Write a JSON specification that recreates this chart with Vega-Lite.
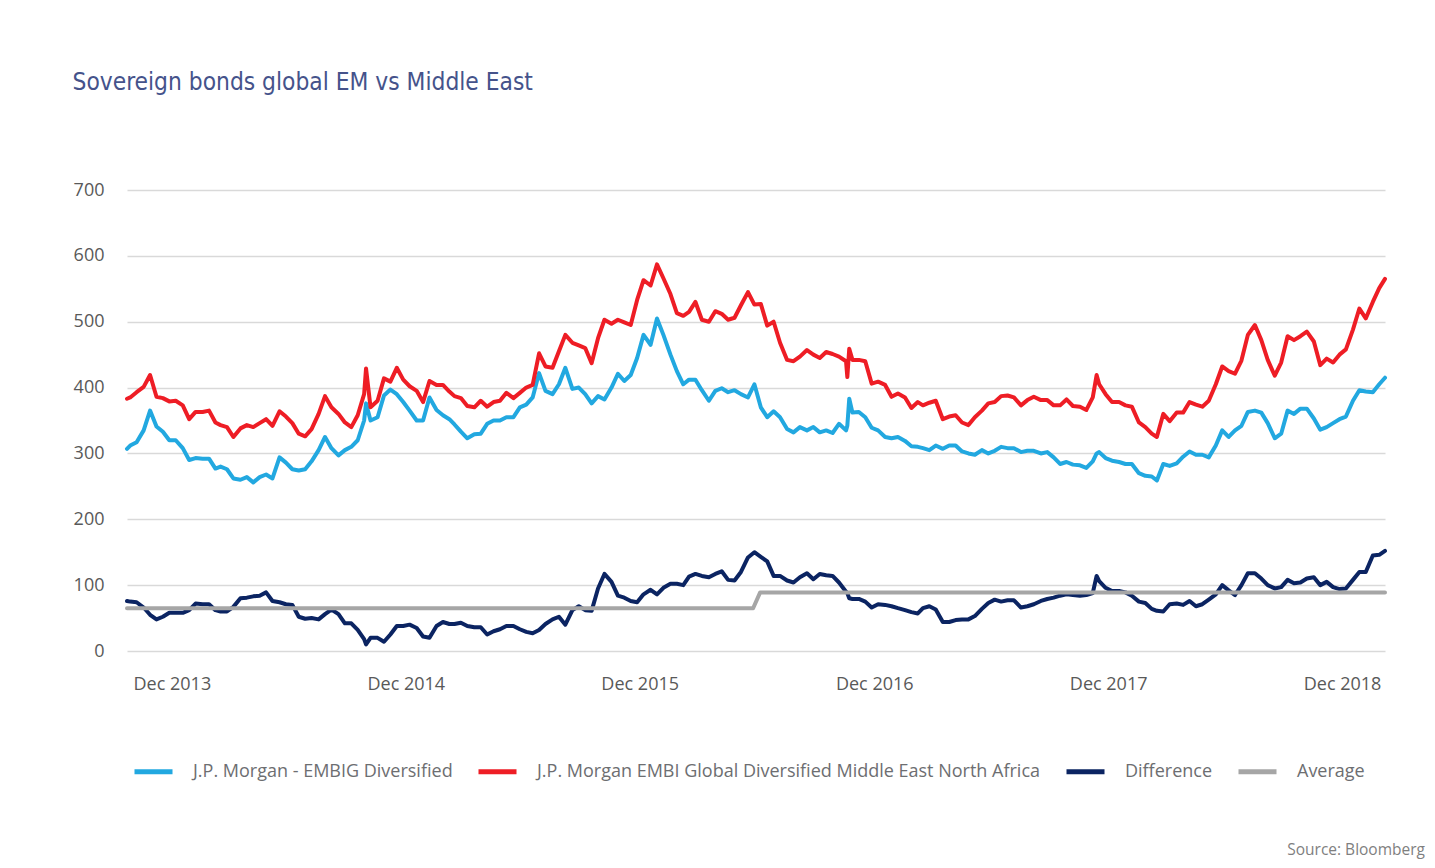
{
  "$schema": "https://vega.github.io/schema/vega-lite/v6.json",
  "width": 1258,
  "height": 461,
  "autosize": {"type": "none"},
  "padding": {"left": 127, "top": 190, "right": 50, "bottom": 217},
  "background": "#ffffff",
  "title": {"text": "Source: Bloomberg", "orient": "bottom", "anchor": "end", "frame": "group", "fontSize": 15.5, "fontWeight": "normal", "color": "#7f7f7f", "font": "Open Sans", "offset": 56, "dx": 40},
  "data": {"values": [
    {"d":"2013-10-06","me":383,"em":307,"df":76,"av":65},
    {"d":"2013-10-11","me":385,"em":312,"df":75},
    {"d":"2013-10-21","me":393,"em":317,"df":74},
    {"d":"2013-11-01","me":401,"em":335,"df":66},
    {"d":"2013-11-11","me":419,"em":365,"df":55},
    {"d":"2013-11-21","me":386,"em":341,"df":48},
    {"d":"2013-12-01","me":384,"em":333,"df":52},
    {"d":"2013-12-11","me":379,"em":320,"df":58},
    {"d":"2013-12-21","me":380,"em":320,"df":58},
    {"d":"2014-01-01","me":373,"em":308,"df":58},
    {"d":"2014-01-11","me":352,"em":290,"df":62},
    {"d":"2014-01-21","me":363,"em":293,"df":72},
    {"d":"2014-02-01","me":363,"em":292,"df":71},
    {"d":"2014-02-11","me":365,"em":292,"df":71},
    {"d":"2014-02-21","me":347,"em":277,"df":62},
    {"d":"2014-03-01","me":343,"em":280,"df":60},
    {"d":"2014-03-11","me":340,"em":276,"df":60},
    {"d":"2014-03-21","me":325,"em":262,"df":67},
    {"d":"2014-04-01","me":338,"em":260,"df":80},
    {"d":"2014-04-11","me":343,"em":264,"df":81},
    {"d":"2014-04-21","me":340,"em":256,"df":83},
    {"d":"2014-05-01","me":346,"em":264,"df":84},
    {"d":"2014-05-11","me":352,"em":268,"df":89},
    {"d":"2014-05-21","me":342,"em":262,"df":76},
    {"d":"2014-06-01","me":364,"em":294,"df":74},
    {"d":"2014-06-11","me":356,"em":286,"df":71},
    {"d":"2014-06-21","me":346,"em":276,"df":70},
    {"d":"2014-07-01","me":330,"em":274,"df":52},
    {"d":"2014-07-11","me":326,"em":276,"df":49},
    {"d":"2014-07-21","me":337,"em":288,"df":50},
    {"d":"2014-08-01","me":360,"em":305,"df":48},
    {"d":"2014-08-11","me":387,"em":325,"df":56},
    {"d":"2014-08-21","me":370,"em":308,"df":63},
    {"d":"2014-09-01","me":360,"em":297,"df":56},
    {"d":"2014-09-11","me":347,"em":305,"df":42},
    {"d":"2014-09-21","me":340,"em":310,"df":42},
    {"d":"2014-10-01","me":358,"em":320,"df":32},
    {"d":"2014-10-11","me":390,"em":350,"df":18},
    {"d":"2014-10-14","me":429,"em":376,"df":10},
    {"d":"2014-10-21","me":370,"em":350,"df":20},
    {"d":"2014-11-01","me":380,"em":355,"df":20},
    {"d":"2014-11-11","me":414,"em":388,"df":14},
    {"d":"2014-11-21","me":409,"em":397,"df":25},
    {"d":"2014-12-01","me":430,"em":390,"df":38},
    {"d":"2014-12-11","me":412,"em":378,"df":38},
    {"d":"2014-12-21","me":402,"em":365,"df":40},
    {"d":"2015-01-01","me":395,"em":350,"df":35},
    {"d":"2015-01-11","me":378,"em":350,"df":22},
    {"d":"2015-01-21","me":410,"em":385,"df":20},
    {"d":"2015-02-01","me":404,"em":366,"df":38},
    {"d":"2015-02-11","me":404,"em":358,"df":44},
    {"d":"2015-02-21","me":394,"em":352,"df":41},
    {"d":"2015-03-01","me":387,"em":344,"df":41},
    {"d":"2015-03-11","me":384,"em":333,"df":43},
    {"d":"2015-03-21","me":372,"em":323,"df":38},
    {"d":"2015-04-01","me":370,"em":329,"df":36},
    {"d":"2015-04-11","me":380,"em":330,"df":36},
    {"d":"2015-04-21","me":371,"em":345,"df":25},
    {"d":"2015-05-01","me":378,"em":350,"df":30},
    {"d":"2015-05-11","me":380,"em":350,"df":33},
    {"d":"2015-05-21","me":392,"em":355,"df":38},
    {"d":"2015-06-01","me":384,"em":355,"df":38},
    {"d":"2015-06-11","me":392,"em":370,"df":33},
    {"d":"2015-06-21","me":400,"em":374,"df":29},
    {"d":"2015-07-01","me":404,"em":385,"df":27},
    {"d":"2015-07-11","me":452,"em":422,"df":32},
    {"d":"2015-07-21","me":432,"em":395,"df":41},
    {"d":"2015-08-01","me":430,"em":390,"df":48},
    {"d":"2015-08-11","me":455,"em":405,"df":52},
    {"d":"2015-08-21","me":480,"em":430,"df":40},
    {"d":"2015-09-01","me":468,"em":398,"df":62},
    {"d":"2015-09-11","me":464,"em":400,"df":68},
    {"d":"2015-09-21","me":460,"em":390,"df":62},
    {"d":"2015-10-01","me":437,"em":376,"df":61},
    {"d":"2015-10-11","me":475,"em":387,"df":95},
    {"d":"2015-10-21","me":503,"em":382,"df":117},
    {"d":"2015-11-01","me":497,"em":400,"df":105},
    {"d":"2015-11-11","me":503,"em":421,"df":84},
    {"d":"2015-11-21","me":499,"em":410,"df":81},
    {"d":"2015-12-01","me":495,"em":419,"df":76},
    {"d":"2015-12-11","me":533,"em":445,"df":74},
    {"d":"2015-12-21","me":563,"em":480,"df":86},
    {"d":"2016-01-01","me":555,"em":465,"df":93},
    {"d":"2016-01-11","me":587,"em":505,"df":86},
    {"d":"2016-01-21","me":566,"em":480,"df":96},
    {"d":"2016-02-01","me":542,"em":450,"df":102},
    {"d":"2016-02-11","me":513,"em":425,"df":102},
    {"d":"2016-02-21","me":509,"em":405,"df":100},
    {"d":"2016-03-01","me":515,"em":412,"df":113},
    {"d":"2016-03-11","me":530,"em":412,"df":117},
    {"d":"2016-03-21","me":503,"em":396,"df":114},
    {"d":"2016-04-01","me":500,"em":380,"df":112},
    {"d":"2016-04-11","me":516,"em":395,"df":117},
    {"d":"2016-04-21","me":512,"em":399,"df":121},
    {"d":"2016-05-01","me":503,"em":393,"df":108},
    {"d":"2016-05-11","me":506,"em":396,"df":107},
    {"d":"2016-05-21","me":525,"em":390,"df":120},
    {"d":"2016-06-01","me":545,"em":385,"df":142},
    {"d":"2016-06-09","av":65},
    {"d":"2016-06-11","me":526,"em":405,"df":150},
    {"d":"2016-06-20","av":89},
    {"d":"2016-06-21","me":527,"em":370,"df":143},
    {"d":"2016-07-01","me":494,"em":355,"df":136},
    {"d":"2016-07-11","me":500,"em":364,"df":114},
    {"d":"2016-07-21","me":468,"em":355,"df":114},
    {"d":"2016-08-01","me":442,"em":337,"df":107},
    {"d":"2016-08-11","me":440,"em":332,"df":104},
    {"d":"2016-08-21","me":447,"em":340,"df":112},
    {"d":"2016-09-01","me":457,"em":335,"df":118},
    {"d":"2016-09-11","me":450,"em":340,"df":109},
    {"d":"2016-09-21","me":445,"em":332,"df":117},
    {"d":"2016-10-01","me":454,"em":335,"df":115},
    {"d":"2016-10-11","me":451,"em":331,"df":114},
    {"d":"2016-10-21","me":447,"em":345,"df":104},
    {"d":"2016-11-01","me":440,"em":335,"df":90},
    {"d":"2016-11-03","me":416,"em":342,"df":88},
    {"d":"2016-11-06","me":459,"em":383,"df":80},
    {"d":"2016-11-11","me":442,"em":362,"df":79},
    {"d":"2016-11-21","me":442,"em":363,"df":79},
    {"d":"2016-12-01","me":440,"em":355,"df":75},
    {"d":"2016-12-11","me":406,"em":339,"df":66},
    {"d":"2016-12-21","me":409,"em":335,"df":71},
    {"d":"2017-01-01","me":404,"em":325,"df":70},
    {"d":"2017-01-11","me":386,"em":323,"df":68},
    {"d":"2017-01-21","me":391,"em":325,"df":65},
    {"d":"2017-02-01","me":385,"em":319,"df":62},
    {"d":"2017-02-11","me":369,"em":311,"df":59},
    {"d":"2017-02-21","me":378,"em":310,"df":57},
    {"d":"2017-03-01","me":373,"em":308,"df":65},
    {"d":"2017-03-11","me":377,"em":305,"df":68},
    {"d":"2017-03-21","me":380,"em":312,"df":63},
    {"d":"2017-04-01","me":352,"em":307,"df":44},
    {"d":"2017-04-11","me":356,"em":312,"df":44},
    {"d":"2017-04-21","me":358,"em":312,"df":47},
    {"d":"2017-05-01","me":347,"em":303,"df":48},
    {"d":"2017-05-11","me":343,"em":300,"df":48},
    {"d":"2017-05-21","me":355,"em":298,"df":53},
    {"d":"2017-06-01","me":365,"em":305,"df":64},
    {"d":"2017-06-11","me":376,"em":300,"df":73},
    {"d":"2017-06-21","me":378,"em":304,"df":78},
    {"d":"2017-07-01","me":387,"em":310,"df":75},
    {"d":"2017-07-11","me":388,"em":308,"df":77},
    {"d":"2017-07-21","me":385,"em":308,"df":77},
    {"d":"2017-08-01","me":373,"em":302,"df":66},
    {"d":"2017-08-11","me":381,"em":304,"df":68},
    {"d":"2017-08-21","me":386,"em":304,"df":71},
    {"d":"2017-09-01","me":381,"em":300,"df":76},
    {"d":"2017-09-11","me":381,"em":302,"df":79},
    {"d":"2017-09-21","me":373,"em":294,"df":81},
    {"d":"2017-10-01","me":373,"em":284,"df":84},
    {"d":"2017-10-11","me":382,"em":287,"df":86},
    {"d":"2017-10-21","me":372,"em":283,"df":85},
    {"d":"2017-11-01","me":371,"em":282,"df":84},
    {"d":"2017-11-11","me":366,"em":278,"df":85},
    {"d":"2017-11-21","me":385,"em":288,"df":88},
    {"d":"2017-11-27","me":419,"em":300,"df":114},
    {"d":"2017-12-01","me":405,"em":302,"df":106},
    {"d":"2017-12-11","me":390,"em":293,"df":96},
    {"d":"2017-12-21","me":378,"em":289,"df":91},
    {"d":"2018-01-01","me":378,"em":287,"df":91},
    {"d":"2018-01-11","me":373,"em":284,"df":89},
    {"d":"2018-01-21","me":371,"em":284,"df":84},
    {"d":"2018-02-01","me":347,"em":270,"df":75},
    {"d":"2018-02-11","me":340,"em":266,"df":73},
    {"d":"2018-02-21","me":330,"em":265,"df":64},
    {"d":"2018-03-01","me":325,"em":259,"df":61},
    {"d":"2018-03-11","me":360,"em":284,"df":60},
    {"d":"2018-03-21","me":349,"em":281,"df":71},
    {"d":"2018-04-01","me":362,"em":285,"df":72},
    {"d":"2018-04-11","me":362,"em":295,"df":70},
    {"d":"2018-04-21","me":378,"em":303,"df":76},
    {"d":"2018-05-01","me":374,"em":298,"df":68},
    {"d":"2018-05-11","me":371,"em":298,"df":71},
    {"d":"2018-05-21","me":380,"em":294,"df":78},
    {"d":"2018-06-01","me":405,"em":312,"df":86},
    {"d":"2018-06-11","me":432,"em":335,"df":100},
    {"d":"2018-06-21","me":425,"em":325,"df":92},
    {"d":"2018-07-01","me":421,"em":335,"df":85},
    {"d":"2018-07-11","me":441,"em":342,"df":100},
    {"d":"2018-07-21","me":480,"em":363,"df":118},
    {"d":"2018-08-01","me":495,"em":365,"df":118},
    {"d":"2018-08-11","me":472,"em":362,"df":110},
    {"d":"2018-08-21","me":442,"em":346,"df":100},
    {"d":"2018-09-01","me":418,"em":323,"df":95},
    {"d":"2018-09-11","me":438,"em":330,"df":97},
    {"d":"2018-09-21","me":478,"em":365,"df":108},
    {"d":"2018-10-01","me":472,"em":360,"df":103},
    {"d":"2018-10-11","me":478,"em":368,"df":104},
    {"d":"2018-10-21","me":485,"em":368,"df":110},
    {"d":"2018-11-01","me":470,"em":353,"df":112},
    {"d":"2018-11-11","me":434,"em":336,"df":100},
    {"d":"2018-11-21","me":444,"em":340,"df":105},
    {"d":"2018-12-01","me":438,"em":346,"df":97},
    {"d":"2018-12-11","me":450,"em":352,"df":94},
    {"d":"2018-12-21","me":458,"em":356,"df":95},
    {"d":"2019-01-01","me":488,"em":380,"df":108},
    {"d":"2019-01-11","me":520,"em":396,"df":120},
    {"d":"2019-01-21","me":505,"em":394,"df":120},
    {"d":"2019-02-01","me":530,"em":393,"df":145},
    {"d":"2019-02-11","me":551,"em":405,"df":146},
    {"d":"2019-02-20","me":565,"em":415,"df":152,"av":89}
  ]},
  "transform": [
    {"fold": ["em", "me", "df", "av"], "as": ["k", "v"]},
    {"filter": "isValid(datum.v)"}
  ],
  "mark": {"type": "line", "strokeWidth": 4, "strokeJoin": "round", "strokeCap": "round", "clip": false},
  "encoding": {
    "x": {
      "field": "d", "type": "temporal",
      "scale": {"type": "utc", "domain": [{"year": 2013, "month": 10, "date": 6, "utc": true}, {"year": 2019, "month": 2, "date": 20, "utc": true}]},
      "axis": {
        "values": [
          {"year": 2013, "month": 12, "date": 15, "utc": true},
          {"year": 2014, "month": 12, "date": 15, "utc": true},
          {"year": 2015, "month": 12, "date": 15, "utc": true},
          {"year": 2016, "month": 12, "date": 15, "utc": true},
          {"year": 2017, "month": 12, "date": 15, "utc": true},
          {"year": 2018, "month": 12, "date": 15, "utc": true}
        ],
        "format": "%b %Y", "title": null, "grid": false, "domain": false, "ticks": false,
        "labelPadding": 24, "labelFontSize": 18, "labelColor": "#595959", "labelFont": "Open Sans", "labelFlush": false
      }
    },
    "y": {
      "field": "v", "type": "quantitative",
      "scale": {"domain": [0, 700], "nice": false},
      "axis": {
        "values": [0, 100, 200, 300, 400, 500, 600, 700],
        "title": "Sovereign bonds global EM vs Middle East",
        "titleAngle": 0, "titleAlign": "left", "titleBaseline": "alphabetic",
        "titleX": -55, "titleY": -101, "titleFontSize": 24.3,
        "titleFont": "Liberation Sans Narrow, DejaVu Sans Condensed, Open Sans Condensed, Open Sans",
        "titleFontWeight": "normal", "titleColor": "#45538b",
        "domain": false, "ticks": false, "labelPadding": 23, "labelFontSize": 18,
        "labelColor": "#595959", "labelFont": "Open Sans",
        "gridColor": "#d9d9d9", "gridWidth": 1.5
      }
    },
    "color": {
      "field": "k", "type": "nominal",
      "scale": {"domain": ["em", "me", "df", "av"], "range": ["#22a8e0", "#ee1d25", "#0b2462", "#a6a6a6"]},
      "legend": {
        "orient": "bottom", "direction": "horizontal", "title": null,
        "symbolType": "stroke", "symbolSize": 1444, "symbolStrokeWidth": 5,
        "labelFontSize": 18, "labelColor": "#6d6e71", "labelFont": "Open Sans", "labelLimit": 0,
        "columnPadding": 15, "labelOffset": 18, "offset": 52, "padding": 5,
        "labelExpr": "datum.label == 'em' ? 'J.P. Morgan - EMBIG Diversified' : datum.label == 'me' ? 'J.P. Morgan EMBI Global Diversified Middle East North Africa' : datum.label == 'df' ? 'Difference' : 'Average'"
      }
    }
  },
  "config": {"view": {"stroke": null}}
}
